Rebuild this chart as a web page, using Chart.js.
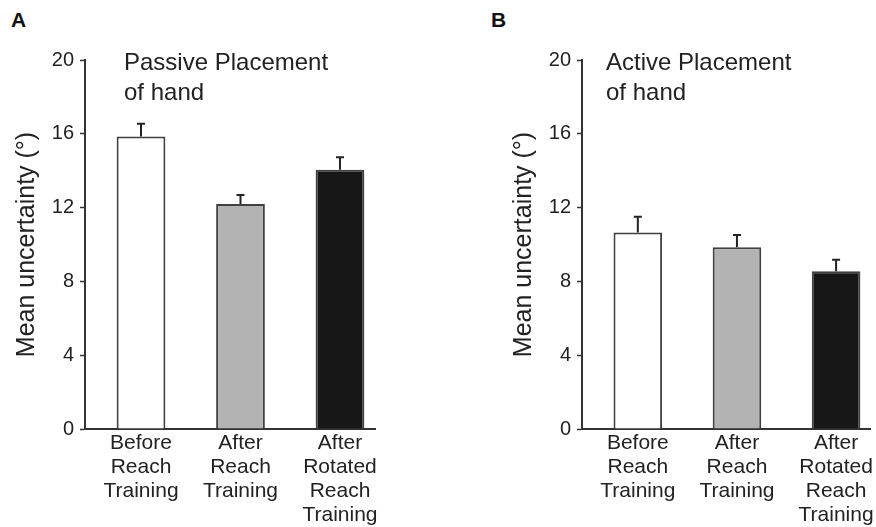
<!DOCTYPE html>
<html>
<head>
<meta charset="utf-8">
<script src="https://cdn.jsdelivr.net/npm/chart.js@4/dist/chart.umd.min.js"></script>
<style>
  html, body { margin: 0; padding: 0; background: #fff; }
  #wrap { position: relative; width: 876px; height: 527px; overflow: hidden; font-family: "Liberation Sans", Arial, sans-serif; }
  .panel { position: absolute; top: 0; width: 438px; height: 527px; }
  .letter { position: absolute; font-weight: bold; font-size: 21px; color: #111; }
</style>
</head>
<body>
<div id="wrap">
  <div class="letter" style="left:11px; top:8px;">A</div>
  <div class="letter" style="left:491px; top:8px;">B</div>
  <div class="panel" style="left:0px;"><canvas id="chartA"></canvas></div>
  <div class="panel" style="left:438px;"><canvas id="chartB"></canvas></div>
</div>
<script>
// Conditions (x categories)
const conditions = [
  ['Before', 'Reach', 'Training'],
  ['After', 'Reach', 'Training'],
  ['After', 'Rotated', 'Reach', 'Training']
];
const barColors = ['#ffffff', '#b3b3b3', '#171717'];

// Panel A: passive placement of hand
const passiveMeans = [15.85, 12.2, 14.05];
const passiveErrors = [0.7, 0.48, 0.68];

// Panel B: active placement of hand
const activeMeans = [10.65, 9.85, 8.55];
const activeErrors = [0.85, 0.66, 0.63];

const yTicks = [0, 4, 8, 12, 16, 20];

const FONT = '"Liberation Sans", Arial, sans-serif';
const INK = '#222';

// draws the one-sided (upward) error bars
const errorBars = {
  id: 'errorBars',
  afterDatasetsDraw(chart, args, opts) {
    const ctx = chart.ctx;
    const yScale = chart.scales.y;
    const meta = chart.getDatasetMeta(0);
    ctx.save();
    ctx.strokeStyle = INK;
    ctx.lineWidth = 2;
    meta.data.forEach((bar, i) => {
      const v = chart.data.datasets[0].data[i].y;
      const top = yScale.getPixelForValue(v + opts.errors[i]);
      const base = yScale.getPixelForValue(v);
      ctx.beginPath();
      ctx.moveTo(bar.x, base);
      ctx.lineTo(bar.x, top);
      ctx.moveTo(bar.x - 4, top);
      ctx.lineTo(bar.x + 4, top);
      ctx.stroke();
    });
    ctx.restore();
  }
};

// inset title inside plot area
const insetTitle = {
  id: 'insetTitle',
  afterDraw(chart, args, opts) {
    const ctx = chart.ctx;
    const area = chart.chartArea;
    ctx.save();
    ctx.fillStyle = INK;
    ctx.font = '24px ' + FONT;
    ctx.textBaseline = 'alphabetic';
    opts.lines.forEach((line, i) => {
      ctx.fillText(line, area.left + opts.dx, 70 + i * 30);
    });
    ctx.restore();
  }
};

function makePanel(id, means, errors, titleLines, padLeft, padRight, titleDx) {
  return new Chart(document.getElementById(id), {
    type: 'bar',
    data: {
      datasets: [{
        data: means.map((v, i) => ({ x: i, y: v })),
        backgroundColor: barColors,
        borderColor: '#404040',
        borderWidth: 2,
        barPercentage: 0.49,
        categoryPercentage: 1.0
      }]
    },
    options: {
      responsive: true,
      maintainAspectRatio: false,
      animation: false,
      layout: { padding: { left: padLeft, right: padRight, top: 60, bottom: 0 } },
      plugins: {
        legend: { display: false },
        tooltip: { enabled: false },
        errorBars: { errors: errors },
        insetTitle: { lines: titleLines, dx: titleDx }
      },
      scales: {
        x: {
          type: 'linear',
          offset: false,
          min: -0.563,
          max: 2.352,
          afterBuildTicks: s => { s.ticks = conditions.map((c, i) => ({ value: i })); },
          afterFit: s => { s.height = 98; },
          grid: { display: false, drawTicks: false },
          border: { display: true, color: '#333', width: 2 },
          ticks: {
            autoSkip: false,
            maxRotation: 0,
            padding: 2,
            color: INK,
            font: { family: FONT, size: 21, lineHeight: 1.15 },
            callback: v => conditions[v]
          }
        },
        y: {
          min: 0,
          max: 20,
          afterBuildTicks: s => { s.ticks = yTicks.map(v => ({ value: v })); },
          afterFit: s => { s.width = 80; },
          grid: { display: true, drawOnChartArea: false, drawTicks: true, tickLength: 5, tickColor: '#333', tickWidth: 1.5 },
          border: { display: true, color: '#333', width: 2 },
          ticks: { padding: 6, color: INK, font: { family: FONT, size: 20 } },
          title: {
            display: true,
            text: 'Mean uncertainty (°)',
            color: INK,
            font: { family: FONT, size: 25 },
            padding: { top: 7, bottom: 0 }
          }
        }
      }
    },
    plugins: [errorBars, insetTitle]
  });
}

makePanel('chartA', passiveMeans, passiveErrors, ['Passive Placement', 'of hand'], 5, 63, 39);
makePanel('chartB', activeMeans, activeErrors, ['Active Placement', 'of hand'], 64, 3, 24);
</script>
</body>
</html>
